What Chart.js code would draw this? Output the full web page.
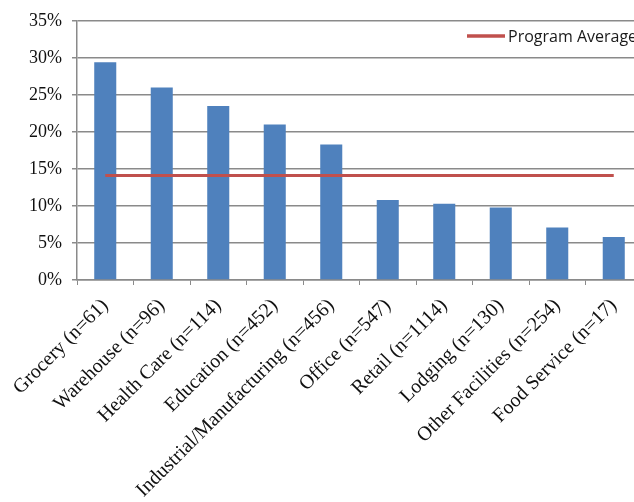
<!DOCTYPE html>
<html>
<head>
<meta charset="utf-8">
<script src="https://cdn.jsdelivr.net/npm/chart.js@4/dist/chart.umd.min.js"></script>
<style>
  html, body { margin: 0; padding: 0; background: #fff; overflow: hidden; }
  #wrap { width: 642px; height: 502px; }
</style>
</head>
<body>
<div id="wrap"><canvas id="chart" width="642" height="502"></canvas></div>
<script>
// Building types with sample sizes
const categories = [
  'Grocery (n=61)', 'Warehouse (n=96)', 'Health Care (n=114)', 'Education (n=452)',
  'Industrial/Manufacturing (n=456)', 'Office (n=547)', 'Retail (n=1114)',
  'Lodging (n=130)', 'Other Facilities (n=254)', 'Food Service (n=17)'
];
// Percent per building type
const typeValues = [29.4, 26.0, 23.5, 21.0, 18.3, 10.8, 10.3, 9.8, 7.1, 5.8];
// Program-wide average, same for every category
const averageValues = [14.1, 14.1, 14.1, 14.1, 14.1, 14.1, 14.1, 14.1, 14.1, 14.1];
const yTicks = [0, 5, 10, 15, 20, 25, 30, 35];

const serif = "'Liberation Serif', 'Times New Roman', serif";
const gridGray = '#8a8a8a';

// Legend drawn inside the plot, top right, showing only the average line
const insideLegend = {
  id: 'insideLegend',
  afterDraw(chart) {
    const ds = chart.data.datasets[0];
    const ctx = chart.ctx;
    const x = 467, y = 36;
    ctx.save();
    ctx.strokeStyle = ds.borderColor;
    ctx.lineWidth = 3.5;
    ctx.beginPath();
    ctx.moveTo(x, y);
    ctx.lineTo(x + 38, y);
    ctx.stroke();
    ctx.fillStyle = '#1a1a1a';
    ctx.font = "16px 'Open Sans', Lato, sans-serif";
    ctx.textBaseline = 'middle';
    ctx.fillText(ds.label, x + 41, y + 1);
    ctx.restore();
  }
};

new Chart(document.getElementById('chart'), {
  data: {
    labels: categories,
    datasets: [
      {
        type: 'line',
        label: 'Program Average',
        data: averageValues,
        borderColor: '#C0504D',
        backgroundColor: '#C0504D',
        borderWidth: 3,
        pointRadius: 0,
        order: 0
      },
      {
        type: 'bar',
        label: 'By Type',
        data: typeValues,
        backgroundColor: '#4F81BD',
        barPercentage: 0.39,
        categoryPercentage: 1,
        order: 1
      }
    ]
  },
  options: {
    responsive: false,
    animation: false,
    layout: { padding: { top: 17, right: 0, left: 0, bottom: 0 } },
    plugins: {
      tooltip: { enabled: false },
      legend: { display: false }
    },
    scales: {
      x: {
        offset: true,
        grid: {
          offset: true,
          drawOnChartArea: false,
          drawTicks: true,
          tickLength: 5,
          color: gridGray
        },
        border: { color: gridGray, width: 1.5 },
        ticks: {
          maxRotation: 45,
          minRotation: 45,
          autoSkip: false,
          padding: 9,
          color: '#111',
          font: { family: serif, size: 20 }
        },
        afterFit: scale => { scale.height = 222; }
      },
      y: {
        min: 0,
        max: 35,
        afterBuildTicks: scale => { scale.ticks = yTicks.map(v => ({ value: v })); },
        grid: { color: gridGray, lineWidth: 1.5, tickLength: 5 },
        border: { color: gridGray, width: 1.5 },
        ticks: {
          padding: 10,
          color: '#111',
          font: { family: serif, size: 18 },
          callback: v => v + '%'
        },
        afterFit: scale => { scale.width = 77; }
      }
    }
  },
  plugins: [insideLegend]
});
</script>
</body>
</html>
